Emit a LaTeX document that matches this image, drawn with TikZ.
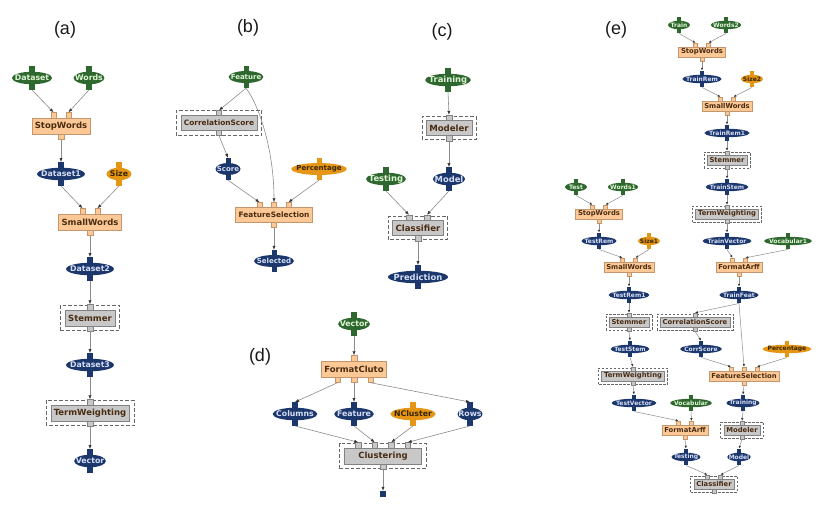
\documentclass[tikz,border=0pt]{standalone}
\usepackage{fontspec}
\setmainfont{DejaVu Sans}
\newfontfamily\panelfont{Liberation Sans}
\usetikzlibrary{arrows.meta, shapes.geometric, positioning}

\definecolor{datgreen}{RGB}{46,104,46}
\definecolor{datblue}{RGB}{27,55,108}
\definecolor{datorange}{RGB}{228,150,20}
\definecolor{txtgreen}{RGB}{222,244,212}
\definecolor{txtblue}{RGB}{214,222,246}
\definecolor{txtdark}{RGB}{58,36,6}
\definecolor{peachfill}{RGB}{252,200,150}
\definecolor{peachline}{RGB}{196,150,110}
\definecolor{greyfill}{RGB}{200,200,200}
\definecolor{greyline}{RGB}{130,130,130}
\definecolor{tasktext}{RGB}{74,44,18}
\definecolor{wire}{RGB}{140,140,140}

\newcommand\taskframe{\draw[frame] ([shift={(-\dgap,-\dgap)}]\nm.south west) rectangle ([shift={(\dgap,\dgap)}]\nm.north east);}

\tikzset{
  pw/.store in=\pw, pgap/.store in=\pgap, dgap/.store in=\dgap,
  pw=5.5pt, pgap=15pt, dgap=4.5pt,
  datlook/.style={font=\bfseries\fontsize{7.8}{8}\selectfont, minimum height=12.5pt, minimum width=25pt, inner xsep=-3pt},
  tasklook/.style={font=\bfseries\fontsize{8.5}{9}\selectfont, minimum height=16pt, inner xsep=3pt},
  frame/.style={draw=black!60, line width=0.8pt, dash pattern=on 3.5pt off 2pt},
  port/.style={fill=#1fill, draw=#1line, line width=0.5pt},
  flow/.style={draw=wire, line width=0.6pt, -{Latex[length=4pt,width=3.2pt,color=black!80]}},
  panel/.style={font=\panelfont\fontsize{18}{18}\selectfont, text=black!90},
  stub/.style={fill=datblue, minimum width=5.5pt, minimum height=6pt, inner sep=0pt},
  dat/.style={ellipse, fill=dat#1, inner ysep=0pt, datlook,
    append after command={\pgfextra{\edef\nm{\tikzlastnode}\pgfinterruptpath
      \fill[dat#1] ([xshift=-0.5*\pw,yshift=-1.5pt]\nm.north) rectangle ++(\pw,\pw+1.5pt);
      \fill[dat#1] ([xshift=-0.5*\pw,yshift=1.5pt]\nm.south) rectangle ++(\pw,-\pw-1.5pt);
      \coordinate (\nm-in) at ([yshift=\pw]\nm.north);
      \coordinate (\nm-out) at ([yshift=-\pw]\nm.south);
      \endpgfinterruptpath}}},
  gdat/.style={dat=green, text=txtgreen},
  bdat/.style={dat=blue, text=txtblue},
  odat/.style={dat=orange, text=txtdark},
  task/.style n args={4}{rectangle, fill=#1fill, draw=#1line, text=tasktext, inner ysep=0pt, tasklook,
    append after command={\pgfextra{\edef\nm{\tikzlastnode}\pgfinterruptpath
      #4
      \foreach \k in {1,...,#2}{
        \pgfmathsetmacro\dx{(\k-(#2+1)/2)*\pgap}
        \path[port=#1] ([xshift=\dx pt-0.5*\pw]\nm.north) rectangle ++(\pw,\pw);
        \coordinate (\nm-in\k) at ([xshift=\dx pt,yshift=\pw]\nm.north);}
      \foreach \k in {1,...,#3}{
        \pgfmathsetmacro\dx{(\k-(#3+1)/2)*\pgap}
        \path[port=#1] ([xshift=\dx pt-0.5*\pw]\nm.south) rectangle ++(\pw,-\pw);
        \coordinate (\nm-out\k) at ([xshift=\dx pt,yshift=-\pw]\nm.south);}
      \endpgfinterruptpath}}},
  ptask/.style 2 args={task={peach}{#1}{#2}{}},
  gtask/.style 2 args={task={grey}{#1}{#2}{\taskframe}}
}

\begin{document}
\begin{tikzpicture}[x=1pt, y=-1pt]

  \path[use as bounding box, fill=white] (0,0) rectangle (833,531);

  % --- (a) ---
  \node[panel] (labA) at (65,30) {(a)};
  \node[gdat] (aDataset) at (32,78) {Dataset};
  \node[gdat] (aWords) at (89,78) {Words};
  \node[ptask={2}{1}] (aStop) at (61,126) {StopWords};
  \node[bdat] (aData1) at (61,174) {Dataset1};
  \node[odat] (aSize) at (119,174) {Size};
  \node[ptask={2}{1}] (aSmall) at (90,222) {SmallWords};
  \node[bdat] (aData2) at (90,269) {Dataset2};
  \node[gtask={1}{1}] (aStem) at (90,318) {Stemmer};
  \node[bdat] (aData3) at (90,365) {Dataset3};
  \node[gtask={1}{1}] (aTerm) at (90,413) {TermWeighting};
  \node[bdat] (aVector) at (90,461) {Vector};

  \draw[flow] (aDataset-out) -- (aStop-in1);
  \draw[flow] (aWords-out) -- (aStop-in2);
  \draw[flow] (aStop-out1) -- (aData1-in);
  \draw[flow] (aData1-out) -- (aSmall-in1);
  \draw[flow] (aSize-out) -- (aSmall-in2);
  \draw[flow] (aSmall-out1) -- (aData2-in);
  \draw[flow] (aData2-out) -- (aStem-in1);
  \draw[flow] (aStem-out1) -- (aData3-in);
  \draw[flow] (aData3-out) -- (aTerm-in1);
  \draw[flow] (aTerm-out1) -- (aVector-in);

  % --- (b) ---
  \begin{scope}[pw=5pt, pgap=14.5pt,
      datlook/.style={font=\bfseries\fontsize{7}{7}\selectfont, minimum height=12pt, minimum width=25pt, inner xsep=-3pt},
      tasklook/.style={font=\bfseries\fontsize{7.4}{8}\selectfont, minimum height=15pt, inner xsep=3pt}]
    \node[panel] (labB) at (248,28) {(b)};
    \node[gdat] (bFeature) at (246,77) {Feature};
    \node[gtask={1}{1}] (bCorr) at (219,123) {CorrelationScore};
    \node[bdat] (bScore) at (228,169) {Score};
    \node[odat] (bPerc) at (319,169) {Percentage};
    \node[ptask={3}{1}] (bFSel) at (274,215) {FeatureSelection};
    \node[bdat] (bSel) at (274,261) {Selected};

    \draw[flow] (bFeature-out) -- (bCorr-in1);
    \draw[flow] (bFeature-out) .. controls (259,105) and (274,150) .. (bFSel-in2);
    \draw[flow] (bCorr-out1) -- (bScore-in);
    \draw[flow] (bScore-out) -- (bFSel-in1);
    \draw[flow] (bPerc-out) -- (bFSel-in3);
    \draw[flow] (bFSel-out1) -- (bSel-in);
  \end{scope}

  % --- (c) ---
  \begin{scope}[pgap=18pt, dgap=4pt,
      datlook/.style={font=\bfseries\fontsize{8.4}{9}\selectfont, minimum height=12.5pt, minimum width=25pt, inner xsep=-3pt},
      tasklook/.style={font=\bfseries\fontsize{8.6}{9}\selectfont, minimum height=15pt, inner xsep=3pt}]
    \node[panel] (labC) at (442,32) {(c)};
    \node[gdat] (cTrain) at (448,80) {Training};
    \node[gtask={1}{1}] (cModeler) at (449,128) {Modeler};
    \node[gdat] (cTest) at (386,179) {Testing};
    \node[bdat] (cModel) at (449,179) {Model};
    \node[gtask={2}{1}] (cClass) at (418,228) {Classifier};
    \node[bdat] (cPred) at (418,277) {Prediction};

    \draw[flow] (cTrain-out) -- (cModeler-in1);
    \draw[flow] (cModeler-out1) -- (cModel-in);
    \draw[flow] (cTest-out) -- (cClass-in1);
    \draw[flow] (cModel-out) -- (cClass-in2);
    \draw[flow] (cClass-out1) -- (cPred-in);
  \end{scope}

  % --- (d) ---
  \begin{scope}[pgap=16.5pt]
    \node[panel] (labD) at (260,357) {(d)};
    \node[gdat] (dVector) at (354,324) {Vector};
    \node[ptask={1}{3}] (dFormat) at (354,369) {FormatCluto};
    \node[bdat] (dCols) at (295,414) {Columns};
    \node[bdat] (dFeat) at (354,414) {Feature};
    \node[odat] (dNClu) at (413,414) {NCluster};
    \node[bdat] (dRows) at (470,414) {Rows};
    \node[gtask={4}{1}, minimum width=77pt] (dClust) at (383,456) {Clustering};
    \node[stub] (dNext) at (383,494) {};

    \draw[flow] (dVector-out) -- (dFormat-in1);
    \draw[flow] (dFormat-out1) -- (dCols-in);
    \draw[flow] (dFormat-out2) -- (dFeat-in);
    \draw[flow] (dFormat-out3) -- (dRows-in);
    \draw[flow] (dCols-out) -- (dClust-in1);
    \draw[flow] (dFeat-out) -- (dClust-in2);
    \draw[flow] (dNClu-out) -- (dClust-in3);
    \draw[flow] (dRows-out) -- (dClust-in4);
    \draw[flow] (dClust-out1) -- (dNext.north);
  \end{scope}

  % --- (e) ---
  \begin{scope}[pw=4pt, pgap=13pt, dgap=3pt,
      datlook/.style={font=\bfseries\fontsize{6}{6}\selectfont, minimum height=8.5pt, minimum width=22pt, inner xsep=-2pt},
      tasklook/.style={font=\bfseries\fontsize{6.8}{7}\selectfont, minimum height=10pt, inner xsep=2.5pt},
      frame/.style={draw=black!60, line width=0.6pt, dash pattern=on 2.5pt off 1.5pt},
      flow/.style={draw=wire, line width=0.5pt, -{Latex[length=2.8pt,width=2.4pt,color=black!80]}}]
    \node[panel] (labE) at (616,30) {(e)};

    % training branch
    \node[gdat] (eTrain) at (679,25) {Train};
    \node[gdat] (eWords2) at (726,25) {Words2};
    \node[ptask={2}{1}] (eStopTr) at (702,52) {StopWords};
    \node[bdat] (eTrainRem) at (702,79) {TrainRem};
    \node[odat] (eSize2) at (752,79) {Size2};
    \node[ptask={2}{1}] (eSmallTr) at (727,106) {SmallWords};
    \node[bdat] (eTrainRem1) at (727,133) {TrainRem1};
    \node[gtask={1}{1}] (eStemTr) at (727,160) {Stemmer};
    \node[bdat] (eTrainStem) at (727,187) {TrainStem};
    \node[gtask={1}{1}] (eTermTr) at (727,214) {TermWeighting};
    \node[bdat] (eTrainVec) at (727,241) {TrainVector};
    \node[gdat] (eVocab1) at (788,241) {Vocabular1};
    \node[ptask={2}{1}] (eArffTr) at (739,267) {FormatArff};
    \node[bdat] (eTrainFeat) at (739,295) {TrainFeat};
    \node[gtask={1}{1}] (eCorr) at (695,322) {CorrelationScore};
    \node[bdat] (eCorrScore) at (701,349) {CorrScore};
    \node[odat] (ePerc) at (787,349) {Percentage};
    \node[ptask={3}{1}] (eFSel) at (744,376) {FeatureSelection};
    \node[bdat] (eTraining) at (743,403) {Training};
    \node[gtask={1}{1}] (eModeler) at (742,430) {Modeler};
    \node[bdat] (eModel) at (739,457) {Model};
    \node[gtask={2}{1}] (eClass) at (714,484) {Classifier};

    % testing branch
    \node[gdat] (eTest) at (576,187) {Test};
    \node[gdat] (eWords1) at (623,187) {Words1};
    \node[ptask={2}{1}] (eStopTe) at (599,214) {StopWords};
    \node[bdat] (eTestRem) at (599,241) {TestRem};
    \node[odat] (eSize1) at (649,241) {Size1};
    \node[ptask={2}{1}] (eSmallTe) at (629,267) {SmallWords};
    \node[bdat] (eTestRem1) at (629,295) {TestRem1};
    \node[gtask={1}{1}] (eStemTe) at (629,322) {Stemmer};
    \node[bdat] (eTestStem) at (630,349) {TestStem};
    \node[gtask={1}{1}] (eTermTe) at (633,376) {TermWeighting};
    \node[bdat] (eTestVec) at (634,403) {TestVector};
    \node[gdat] (eVocab) at (691,403) {Vocabular};
    \node[ptask={2}{1}] (eArffTe) at (685,430) {FormatArff};
    \node[bdat] (eTesting) at (686,457) {Testing};

    \draw[flow] (eTrain-out) -- (eStopTr-in1);
    \draw[flow] (eWords2-out) -- (eStopTr-in2);
    \draw[flow] (eStopTr-out1) -- (eTrainRem-in);
    \draw[flow] (eTrainRem-out) -- (eSmallTr-in1);
    \draw[flow] (eSize2-out) -- (eSmallTr-in2);
    \draw[flow] (eSmallTr-out1) -- (eTrainRem1-in);
    \draw[flow] (eTrainRem1-out) -- (eStemTr-in1);
    \draw[flow] (eStemTr-out1) -- (eTrainStem-in);
    \draw[flow] (eTrainStem-out) -- (eTermTr-in1);
    \draw[flow] (eTermTr-out1) -- (eTrainVec-in);
    \draw[flow] (eTrainVec-out) -- (eArffTr-in1);
    \draw[flow] (eVocab1-out) -- (eArffTr-in2);
    \draw[flow] (eArffTr-out1) -- (eTrainFeat-in);
    \draw[flow] (eTrainFeat-out) -- (eCorr-in1);
    \draw[flow] (eTrainFeat-out) -- (eFSel-in2);
    \draw[flow] (eCorr-out1) -- (eCorrScore-in);
    \draw[flow] (eCorrScore-out) -- (eFSel-in1);
    \draw[flow] (ePerc-out) -- (eFSel-in3);
    \draw[flow] (eFSel-out1) -- (eTraining-in);
    \draw[flow] (eTraining-out) -- (eModeler-in1);
    \draw[flow] (eModeler-out1) -- (eModel-in);
    \draw[flow] (eModel-out) -- (eClass-in2);

    \draw[flow] (eTest-out) -- (eStopTe-in1);
    \draw[flow] (eWords1-out) -- (eStopTe-in2);
    \draw[flow] (eStopTe-out1) -- (eTestRem-in);
    \draw[flow] (eTestRem-out) -- (eSmallTe-in1);
    \draw[flow] (eSize1-out) -- (eSmallTe-in2);
    \draw[flow] (eSmallTe-out1) -- (eTestRem1-in);
    \draw[flow] (eTestRem1-out) -- (eStemTe-in1);
    \draw[flow] (eStemTe-out1) -- (eTestStem-in);
    \draw[flow] (eTestStem-out) -- (eTermTe-in1);
    \draw[flow] (eTermTe-out1) -- (eTestVec-in);
    \draw[flow] (eTestVec-out) -- (eArffTe-in1);
    \draw[flow] (eVocab-out) -- (eArffTe-in2);
    \draw[flow] (eArffTe-out1) -- (eTesting-in);
    \draw[flow] (eTesting-out) -- (eClass-in1);
  \end{scope}

\end{tikzpicture}
\end{document}
